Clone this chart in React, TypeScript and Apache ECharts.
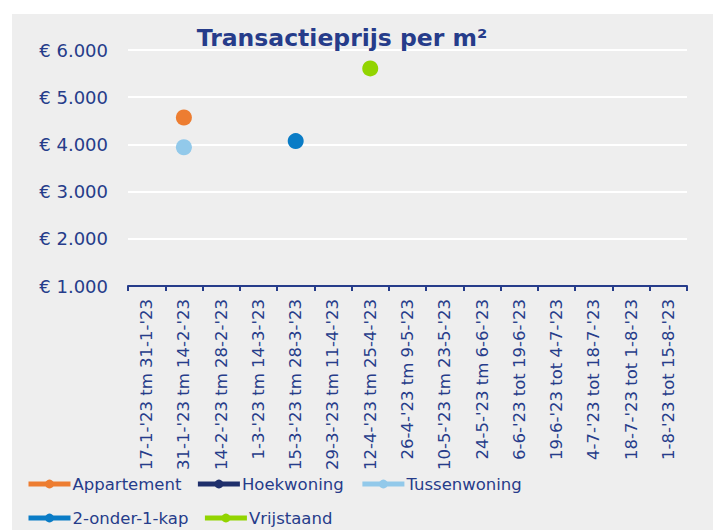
import React, { useEffect, useRef } from "react";
import * as echarts from "echarts";

const categories = [
  "17-1-'23 tm 31-1-'23",
  "31-1-'23 tm 14-2-'23",
  "14-2-'23 tm 28-2-'23",
  "1-3-'23 tm 14-3-'23",
  "15-3-'23 tm 28-3-'23",
  "29-3-'23 tm 11-4-'23",
  "12-4-'23 tm 25-4-'23",
  "26-4-'23 tm 9-5-'23",
  "10-5-'23 tm 23-5-'23",
  "24-5-'23 tm 6-6-'23",
  "6-6-'23 tot 19-6-'23",
  "19-6-'23 tot 4-7-'23",
  "4-7-'23 tot 18-7-'23",
  "18-7-'23 tot 1-8-'23",
  "1-8-'23 tot 15-8-'23",
];

const N = null;
const appartement = [N, 4570, N, N, N, N, N, N, N, N, N, N, N, N, N];
const hoekwoning = [N, N, N, N, N, N, N, N, N, N, N, N, N, N, N];
const tussenwoning = [N, 3940, N, N, N, N, N, N, N, N, N, N, N, N, N];
const tweeOnderEenKap = [N, N, N, N, 4070, N, N, N, N, N, N, N, N, N, N];
const vrijstaand = [N, N, N, N, N, N, 5610, N, N, N, N, N, N, N, N];

const seriesNames = ["Appartement", "Hoekwoning", "Tussenwoning", "2-onder-1-kap", "Vrijstaand"];
const seriesData = [appartement, hoekwoning, tussenwoning, tweeOnderEenKap, vrijstaand];
const colors = ["#ED7D31", "#1F2F6B", "#92C9EA", "#0A7CC6", "#92D400"];

const navy = "#263C8A";
const font = "'DejaVu Sans', sans-serif";

export default function App() {
  const ref = useRef<HTMLDivElement>(null);
  useEffect(() => {
    const chart = echarts.init(ref.current!, undefined, { renderer: "svg" });
    chart.setOption({
      animation: false,
      backgroundColor: "#ffffff",
      graphic: [
        {
          type: "rect",
          z: -10,
          shape: { x: 12, y: 14, width: 701, height: 516 },
          style: { fill: "#EEEEEE" },
        },
      ],
      title: {
        text: "Transactieprijs per m²",
        left: 337,
        textAlign: "center",
        top: 21,
        textStyle: { color: navy, fontFamily: font, fontWeight: "bold", fontSize: 23.5 },
      },
      grid: { left: 128, right: 31, top: 50, bottom: 244, containLabel: false },
      legend: {
        left: 21,
        top: 469,
        width: 520,
        itemWidth: 42,
        itemHeight: 11,
        itemGap: 14,
        data: seriesNames,
        lineStyle: { width: 5 },
        textStyle: { color: navy, fontFamily: font, fontSize: 16.5, width: 104, lineHeight: 20, padding: [0, 0, 0, -3] },
      },
      xAxis: {
        type: "category",
        data: categories,
        boundaryGap: true,
        axisLine: { lineStyle: { color: navy, width: 2 } },
        axisTick: { show: true, length: 5, lineStyle: { color: navy, width: 2 } },
        axisLabel: {
          rotate: 90,
          interval: 0,
          margin: 13,
          color: navy,
          fontFamily: font,
          fontSize: 16.5,
        },
      },
      yAxis: {
        type: "value",
        min: 1000,
        max: 6000,
        interval: 1000,
        axisLine: { show: false },
        axisTick: { show: false },
        splitLine: { lineStyle: { color: "#ffffff", width: 2 } },
        axisLabel: {
          margin: 20,
          color: navy,
          fontFamily: font,
          fontSize: 18,
          formatter: (v: number) => "€ " + v.toLocaleString("de-DE"),
        },
      },
      series: seriesNames.map((name, i) => ({
        name,
        type: "line",
        data: seriesData[i],
        color: colors[i],
        symbol: "circle",
        symbolSize: 16,
        showSymbol: true,
        showAllSymbol: true,
        connectNulls: false,
        lineStyle: { width: 5, color: colors[i] },
        itemStyle: { color: colors[i] },
      })),
    });
    return () => chart.dispose();
  }, []);
  return (
    <div
      ref={ref}
      style={{ position: "absolute", left: 0, top: 0, width: 718, height: 530 }}
    />
  );
}
